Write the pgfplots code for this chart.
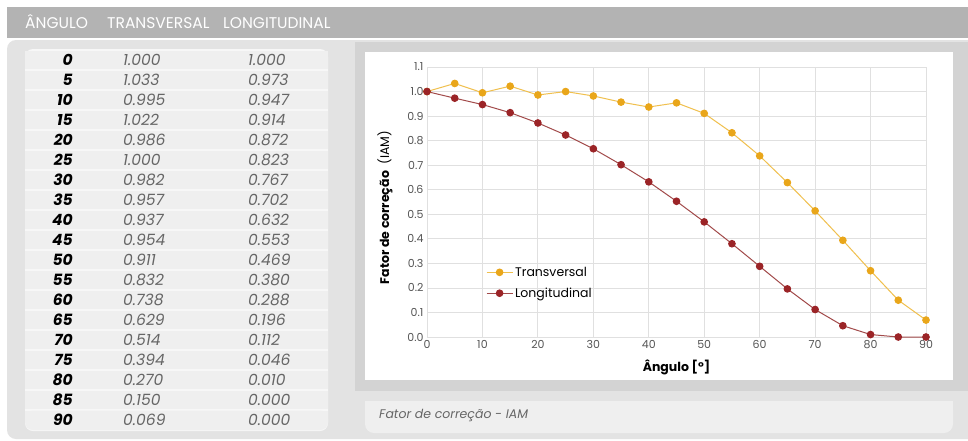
\documentclass[border=0pt]{standalone}
\usepackage{fontspec}
\setmainfont{Poppins}
\usepackage{pgfplots}
\pgfplotsset{compat=1.18}
\definecolor{hdr}{HTML}{B3B3B3}
\definecolor{panel}{HTML}{E3E3E3}
\definecolor{dpanel}{HTML}{D3D3D3}
\definecolor{cell}{HTML}{EFEFEF}
\definecolor{valc}{HTML}{666666}
\definecolor{gridc}{HTML}{E0E0E0}
\definecolor{tickc}{HTML}{555555}
\definecolor{tmark}{HTML}{E9A61A}
\definecolor{tline}{HTML}{F0C04E}
\definecolor{lmark}{HTML}{9B2427}
\definecolor{lline}{HTML}{A24A4A}

% IAM data
\pgfplotstableread{
ang   trans  longi
0     1.000  1.000
5     1.033  0.973
10    0.995  0.947
15    1.022  0.914
20    0.986  0.872
25    1.000  0.823
30    0.982  0.767
35    0.957  0.702
40    0.937  0.632
45    0.954  0.553
50    0.911  0.469
55    0.832  0.380
60    0.738  0.288
65    0.629  0.196
70    0.514  0.112
75    0.394  0.046
80    0.270  0.010
85    0.150  0.000
90    0.069  0.000
}\iamdata

\begin{document}
\begin{tikzpicture}
\begin{scope}[x=1pt,y=-1pt]
  \useasboundingbox (0,0) rectangle (968,440);
  \clip (0,0) rectangle (968,440);
  \fill[white] (0,0) rectangle (968,440);
  % header band
  \fill[hdr] (7,7) rectangle (968,38);
  \node[anchor=base west, text=white, font=\fontsize{15.5}{17}\selectfont, inner sep=0] at (25,28.5) {ÂNGULO};
  \node[anchor=base west, text=white, font=\fontsize{15.5}{17}\selectfont, inner sep=0] at (107,28.5) {TRANSVERSAL};
  \node[anchor=base west, text=white, font=\fontsize{15.5}{17}\selectfont, inner sep=0] at (223,28.5) {LONGITUDINAL};
  % panels
  \fill[panel, rounded corners=9pt] (7,40) rectangle (990,439);
  \fill[dpanel] (355,42) rectangle (968,391);
  \fill[white] (365,52) rectangle (953,380);
  \fill[cell, rounded corners=9pt] (365,401) rectangle (953,433);
  \fill[cell] (365,401) rectangle (953,415);
  \node[anchor=base west, text=valc, font=\fontsize{12.5}{15}\selectfont\itshape, inner sep=0] at (379,418) {Fator de correção - IAM};
  % table
  \fill[white!97!black, rounded corners=8pt] (25,49) rectangle (328,431);
  \foreach \a/\t/\l [count=\i from 0] in {0/1.000/1.000, 5/1.033/0.973, 10/0.995/0.947, 15/1.022/0.914, 20/0.986/0.872, 25/1.000/0.823, 30/0.982/0.767, 35/0.957/0.702, 40/0.937/0.632, 45/0.954/0.553, 50/0.911/0.469, 55/0.832/0.380, 60/0.738/0.288, 65/0.629/0.196, 70/0.514/0.112, 75/0.394/0.046, 80/0.270/0.010, 85/0.150/0.000, 90/0.069/0.000}{
    \pgfmathsetmacro{\yc}{60+20*\i}
    \ifnum\i<18
      \fill[cell] (25,\yc-9.5) rectangle (328,\yc+9);
    \else
      \fill[cell, rounded corners=8pt] (25,\yc-9.5) rectangle (328,\yc+10);
      \fill[cell] (25,\yc-9.5) rectangle (328,\yc);
    \fi
    \node[anchor=base east, font=\fontsize{15.5}{17}\selectfont\bfseries\itshape, inner sep=0] at (73,\yc+5.5) {\a};
    \node[anchor=base west, text=valc, font=\fontsize{15.5}{17}\selectfont\itshape, inner sep=0] at (123,\yc+5.5) {\t};
    \node[anchor=base west, text=valc, font=\fontsize{15.5}{17}\selectfont\itshape, inner sep=0] at (248,\yc+5.5) {\l};
  }
\end{scope}

\begin{axis}[
  at={(427pt,-337pt)}, anchor=south west,
  scale only axis, width=499pt, height=270pt,
  xmin=0, xmax=90, ymin=0, ymax=1.1,
  xtick={0,10,...,90},
  ytick={0,0.1,0.2,0.3,0.4,0.5,0.6,0.7,0.8,0.9,1.0,1.1},
  yticklabel style={/pgf/number format/.cd, fixed, fixed zerofill, precision=1},
  /pgf/number format/assume math mode=true,
  tick label style={font=\fontsize{11}{13}\selectfont, text=tickc},
  major tick length=0pt,
  grid=major,
  major grid style={draw=gridc, line width=0.8pt},
  axis line style={draw=gridc, line width=0.8pt},
  xlabel={\bfseries Ângulo [°]},
  ylabel={{\bfseries Fator de correção}\ \ (IAM)},
  label style={font=\fontsize{12.5}{14}\selectfont},
  xlabel style={at={(axis description cs:0.5,-0.111)}, anchor=center},
  ylabel style={at={(axis description cs:-0.084,0.48)}, anchor=center},
  legend style={at={(axis description cs:0.112,0.275)}, anchor=north west,
    draw=none, fill=none, font=\fontsize{12.5}{14}\selectfont, row sep=6pt},
  legend cell align=left,
  legend image code/.code={
    \draw[mark repeat=2, mark phase=2] plot coordinates {(0pt,0pt) (13pt,0pt) (26pt,0pt)};
  },
  clip=false,
]
\addplot[color=tline, line width=1pt, mark=*, mark size=3.3pt,
  mark options={fill=tmark, draw=tmark}] table[x=ang, y=trans] {\iamdata};
\addlegendentry{Transversal}
\addplot[color=lline, line width=1pt, mark=*, mark size=3.3pt,
  mark options={fill=lmark, draw=lmark}] table[x=ang, y=longi] {\iamdata};
\addlegendentry{Longitudinal}
\end{axis}
\end{tikzpicture}
\end{document}
